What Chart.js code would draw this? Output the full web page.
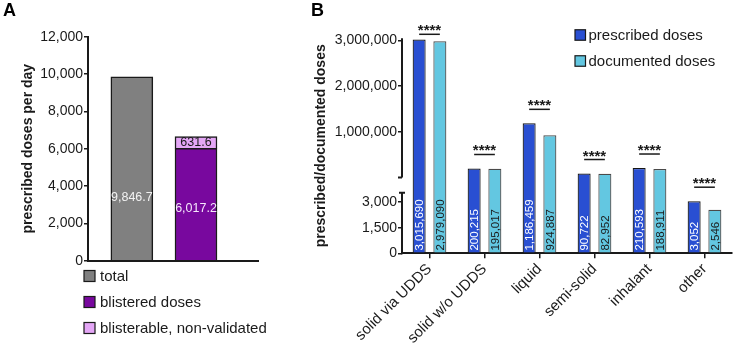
<!DOCTYPE html>
<html>
<head>
<meta charset="utf-8">
<script src="https://cdn.jsdelivr.net/npm/chart.js@4/dist/chart.umd.min.js"></script>
<style>
  html, body { margin: 0; padding: 0; background: #fff; }
  #wrap { position: relative; width: 733px; height: 344px; overflow: hidden; }
  canvas { position: absolute; top: 0; }
  #chartA { left: 0; }
  #chartB { left: 308px; }
</style>
</head>
<body>
<div id="wrap">
  <canvas id="chartA" width="308" height="344"></canvas>
  <canvas id="chartB" width="425" height="344"></canvas>
</div>
<script>
// panel A: doses per day
const aSeries = ['total', 'blistered doses', 'blisterable, non-validated'];
const aValues = [9846.7, 6017.2, 631.6];
const aBar = [1, 2, 2]; // which bar each series sits in
const aColors = ['#808080', '#78089e', '#e4a6f6'];

// panel B: per dosage form
const forms = ['solid via UDDS', 'solid w/o UDDS', 'liquid', 'semi-solid', 'inhalant', 'other'];
const prescribed = [3015690, 200215, 1186459, 90722, 210593, 3052];
const documented = [2979090, 195017, 924887, 82952, 188911, 2546];
const stars = ['****', '****', '****', '****', '****', '****'];
const bTicks = [0, 1500, 3000, 1000000, 2000000, 3000000];
const bBreak = 3550; // top of the lower axis segment

const FONT = "'Liberation Sans', Arial, sans-serif";
const INK = '#1a1a1a';
Chart.defaults.font.family = FONT;
Chart.defaults.color = INK;

const fmt = (v, d) => v.toLocaleString('en-US', {minimumFractionDigits: d, maximumFractionDigits: d});

// linear scale with a gap: [min, brk.at] in the low part, [brk.at, max] above the gap
class BrokenScale extends Chart.LinearScale {
  parts() {
    const h = this.bottom - this.top;
    const o = this.options.brk;
    const lowTop = this.bottom - h * o.low;
    const highBottom = lowTop - h * o.gap;
    return {lowTop, highBottom};
  }
  getPixelForValue(v) {
    const {lowTop, highBottom} = this.parts();
    const at = this.options.brk.at;
    if (v <= at) return this.bottom - (v - this.min) / (at - this.min) * (this.bottom - lowTop);
    return this.top + (this.max - v) / (this.max - at) * (highBottom - this.top);
  }
}
BrokenScale.id = 'broken';
BrokenScale.defaults = Chart.LinearScale.defaults;
Chart.register(BrokenScale);

// vertical legend with square swatches
const boxLegend = {
  id: 'boxLegend',
  afterDraw(chart, args, o) {
    const ctx = chart.ctx;
    ctx.save();
    ctx.font = '15px ' + FONT;
    ctx.textBaseline = 'middle';
    ctx.textAlign = 'left';
    chart.data.datasets.forEach((ds, i) => {
      const cy = o.y + i * o.step;
      ctx.fillStyle = ds.backgroundColor;
      ctx.fillRect(o.x, cy - o.box / 2, o.box, o.box);
      ctx.strokeStyle = INK;
      ctx.lineWidth = 1.2;
      ctx.strokeRect(o.x, cy - o.box / 2, o.box, o.box);
      ctx.fillStyle = INK;
      ctx.fillText(ds.label, o.x + o.box + o.gap, cy + 1);
    });
    ctx.restore();
  }
};

const aLabels = {
  id: 'aLabels',
  afterDatasetsDraw(chart) {
    const ctx = chart.ctx;
    ctx.save();
    ctx.font = '12.5px ' + FONT;
    ctx.textAlign = 'center';
    ctx.textBaseline = 'middle';
    chart.data.datasets.forEach((ds, i) => {
      chart.getDatasetMeta(i).data.forEach((bar, j) => {
        ctx.fillStyle = ds.labelColor;
        ctx.fillText(fmt(ds.data[j].y, 1), bar.x, bar.base + (bar.y - bar.base) * ds.labelAt);
      });
    });
    ctx.restore();
  }
};

const bLabels = {
  id: 'bLabels',
  afterDatasetsDraw(chart) {
    const ctx = chart.ctx;
    chart.data.datasets.forEach((ds, i) => {
      chart.getDatasetMeta(i).data.forEach((bar, j) => {
        ctx.save();
        ctx.translate(bar.x, bar.base - 2);
        ctx.rotate(-Math.PI / 2);
        ctx.font = '11.5px ' + FONT;
        ctx.fillStyle = ds.labelColor;
        ctx.textAlign = 'left';
        ctx.textBaseline = 'middle';
        ctx.fillText(fmt(ds.data[j], 0), 0, 0.5);
        ctx.restore();
      });
    });
  }
};

const bStars = {
  id: 'bStars',
  afterDatasetsDraw(chart) {
    const ctx = chart.ctx;
    const m0 = chart.getDatasetMeta(0).data;
    const m1 = chart.getDatasetMeta(1).data;
    ctx.save();
    ctx.strokeStyle = INK;
    ctx.fillStyle = INK;
    ctx.lineWidth = 1.5;
    ctx.font = 'bold 15px ' + FONT;
    ctx.textAlign = 'center';
    ctx.textBaseline = 'alphabetic';
    stars.forEach((s, i) => {
      const a = m0[i], b = m1[i];
      const y = Math.max(Math.min(a.y, b.y) - 14, chart.chartArea.top - 4);
      ctx.beginPath();
      ctx.moveTo(a.x, y);
      ctx.lineTo(b.x, y);
      ctx.stroke();
      ctx.fillText(s, (a.x + b.x) / 2, y + 1);
    });
    ctx.restore();
  }
};

// y axis line drawn in two pieces with end caps
const axisBreak = {
  id: 'axisBreak',
  afterDraw(chart) {
    const s = chart.scales.y;
    const {lowTop, highBottom} = s.parts();
    const x = s.right;
    const ctx = chart.ctx;
    ctx.save();
    ctx.strokeStyle = INK;
    ctx.lineWidth = 2;
    ctx.beginPath();
    ctx.moveTo(x, s.bottom + 1); ctx.lineTo(x, lowTop);
    ctx.moveTo(x - 3, lowTop); ctx.lineTo(x + 3, lowTop);
    ctx.moveTo(x, highBottom); ctx.lineTo(x, s.top);
    ctx.moveTo(x - 4, highBottom); ctx.lineTo(x, highBottom);
    ctx.stroke();
    ctx.restore();
  }
};

new Chart(document.getElementById('chartA'), {
  type: 'bar',
  data: {
    datasets: aSeries.map((name, i) => ({
      label: name,
      data: [{x: aBar[i], y: aValues[i]}],
      backgroundColor: aColors[i],
      borderColor: INK,
      borderWidth: 1.5,
      barThickness: 42,
      labelAt: [0.34, 0.46, 0.5][i],
      labelColor: ['#f2f2f2', '#f5e8fb', INK][i]
    }))
  },
  options: {
    responsive: false,
    animation: false,
    events: [],
    layout: {padding: {left: 3, top: 0, right: 50, bottom: 83.3}},
    plugins: {
      legend: {display: false},
      tooltip: {enabled: false},
      title: {display: true, text: 'A', align: 'start', color: '#000',
        font: {size: 18, weight: 'bold'}, padding: {top: 0, bottom: 15.1}},
      boxLegend: {x: 84, y: 276, step: 26, box: 11, gap: 5}
    },
    scales: {
      x: {
        type: 'linear', stacked: true, offset: false, min: 0.3164, max: 2.9665,
        ticks: {display: false},
        grid: {display: false},
        border: {color: INK, width: 2},
        afterFit: s => { s.height = 0; }
      },
      y: {
        stacked: true, min: 0, max: 12000,
        ticks: {stepSize: 2000, font: {size: 14}, color: INK, padding: 1, callback: v => fmt(v, 0)},
        grid: {drawOnChartArea: false, tickLength: 4, color: INK, lineWidth: 1.5},
        border: {color: INK, width: 2},
        title: {display: true, text: 'prescribed doses per day', color: INK,
          font: {size: 14, weight: 'bold'}, padding: {top: 16.6, bottom: 0}},
        afterFit: s => { s.width = 85; }
      }
    }
  },
  plugins: [boxLegend, aLabels]
});

new Chart(document.getElementById('chartB'), {
  type: 'bar',
  data: {
    labels: forms,
    datasets: [
      {label: 'prescribed doses', data: prescribed, backgroundColor: '#294fd2', borderColor: '#151515', labelColor: '#ffffff'},
      {label: 'documented doses', data: documented, backgroundColor: '#63c7e1', borderColor: '#4a4a4a', labelColor: INK}
    ].map(d => Object.assign(d, {borderWidth: 1.2, categoryPercentage: 0.753, barPercentage: 0.628}))
  },
  options: {
    responsive: false,
    animation: false,
    events: [],
    layout: {padding: {left: 3, top: 0, right: 1, bottom: 0}},
    plugins: {
      legend: {display: false},
      tooltip: {enabled: false},
      title: {display: true, text: 'B', align: 'start', color: '#000',
        font: {size: 18, weight: 'bold'}, padding: {top: 0, bottom: 16.7}},
      boxLegend: {x: 267, y: 35, step: 26, box: 10.5, gap: 3}
    },
    scales: {
      x: {
        ticks: {font: {size: 15}, color: INK, maxRotation: 45, minRotation: 45, padding: 2, autoSkip: false},
        grid: {offset: false, drawOnChartArea: false, tickLength: 5, color: INK, lineWidth: 1.5},
        border: {color: INK, width: 2},
        afterFit: s => { s.height = 90.7; }
      },
      y: {
        type: 'broken', min: 0, max: 3043700,
        brk: {at: bBreak, low: 60.6 / 215, gap: 15.2 / 215},
        afterBuildTicks: s => { s.ticks = bTicks.map(v => ({value: v})); },
        ticks: {font: {size: 14}, color: INK, padding: 1, autoSkip: false, callback: v => fmt(v, 0)},
        grid: {drawOnChartArea: false, tickLength: 4, color: INK, lineWidth: 1.5},
        border: {display: false},
        title: {display: true, text: 'prescribed/documented doses', color: INK,
          font: {size: 14, weight: 'bold'}, padding: {top: 1.6, bottom: 0}},
        afterFit: s => { s.width = 91; }
      }
    }
  },
  plugins: [boxLegend, axisBreak, bLabels, bStars]
});
</script>
</body>
</html>
